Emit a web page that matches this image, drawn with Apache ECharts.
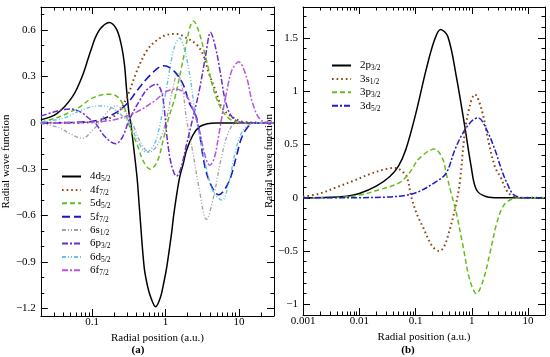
<!DOCTYPE html>
<html><head><meta charset="utf-8">
<script src="https://cdn.jsdelivr.net/npm/echarts@6/dist/echarts.min.js"></script>
<style>html,body{margin:0;padding:0;background:#fff}#c{width:550px;height:357px}</style>
</head><body><div id="c"></div>
<script>
// ---------- Panel (a) data: radial position r (a.u.) and wave function value ----------
const r4d = [0.02,0.033,0.054,0.073,0.09,0.1,0.11,0.125,0.142,0.17,0.213,0.248,0.275,0.295,0.32,0.335,0.37,0.41,0.44,0.51,0.57,0.63,0.73,0.85,0.95,1.04,1.21,1.28,1.4,1.56,1.75,1.92,2.35,2.88,3.7,5,30];
const v4d = [0.02,0.06,0.17,0.30,0.43,0.495,0.55,0.60,0.63,0.65,0.61,0.51,0.38,0.21,0.05,0,-0.17,-0.36,-0.55,-0.93,-1.06,-1.13,-1.19,-1.13,-1.03,-0.93,-0.71,-0.61,-0.48,-0.35,-0.26,-0.18,-0.08,-0.026,-0.005,0,0];
const r4f = [0.02,0.1,0.15,0.22,0.30,0.41,0.56,0.76,1.04,1.41,1.92,2.6,3.2,3.9,4.78,5.86,8,12,30];
const v4f = [0,0.003,0.02,0.06,0.17,0.34,0.47,0.535,0.57,0.575,0.55,0.51,0.45,0.32,0.21,0.10,0.04,0.005,0];
const r5d = [0.02,0.036,0.066,0.1,0.166,0.22,0.275,0.31,0.41,0.5,0.62,0.77,0.94,1.1,1.35,1.6,1.9,2.15,2.4,2.8,3.5,4.55,5.9,8,12,30];
const v5d = [0.005,0.04,0.10,0.16,0.186,0.17,0.10,0,-0.14,-0.25,-0.30,-0.25,-0.10,0.03,0.17,0.33,0.5,0.62,0.66,0.6,0.43,0.21,0.08,0.017,0,0];
const r5f = [0.02,0.08,0.12,0.2,0.3,0.41,0.62,0.94,1.28,1.73,2.12,2.47,2.75,3.5,4.55,5.3,6.2,7.6,9.3,10.8,13.2,16,30];
const v5f = [0,0.005,0.017,0.06,0.125,0.21,0.31,0.37,0.34,0.25,0.125,0.07,0,-0.30,-0.44,-0.465,-0.44,-0.36,-0.21,-0.10,-0.026,0,0];
const r6s = [0.02,0.035,0.05,0.074,0.1,0.125,0.16,0.21,0.27,0.35,0.45,0.6,0.78,1.0,1.25,1.45,1.7,1.92,2.35,2.88,3.6,4.55,5.6,7.2,9.3,30];
const v6s = [-0.005,-0.03,-0.07,-0.10,-0.05,0,0.07,0.11,0.08,0,-0.12,-0.19,-0.14,0,0.22,0.32,0.22,0.03,-0.19,-0.43,-0.625,-0.47,-0.25,-0.06,0,0];
const r6p = [0.02,0.03,0.05,0.07,0.09,0.11,0.15,0.21,0.26,0.32,0.45,0.57,0.75,0.88,0.97,1.05,1.2,1.41,1.6,1.92,2.35,2.88,3.5,4.1,4.78,5.6,6.5,8,11,30];
const v6p = [0.045,0.07,0.09,0.07,0.03,0,-0.09,-0.135,-0.09,0.02,0.15,0.22,0.25,0.2,0.07,-0.1,-0.27,-0.345,-0.3,-0.145,0.03,0.21,0.43,0.585,0.49,0.32,0.147,0.04,0.003,0];
const r6d = [0.02,0.04,0.07,0.12,0.18,0.25,0.32,0.42,0.55,0.7,0.85,1.05,1.3,1.55,1.8,2.12,2.47,2.8,3.5,4.5,5.9,7.3,9,11,14,20,30];
const v6d = [0.005,0.03,0.08,0.11,0.10,0.05,0,-0.12,-0.19,-0.14,0,0.25,0.48,0.55,0.48,0.32,0.1,-0.05,-0.27,-0.45,-0.5,-0.38,-0.18,-0.06,-0.01,0,0];
const r6f = [0.02,0.1,0.2,0.4,0.7,1.0,1.4,1.9,2.4,2.9,3.4,4.0,4.6,5.3,5.9,6.8,8,9.9,12.6,15.4,20,30];
const v6f = [0,0.005,0.02,0.07,0.14,0.2,0.22,0.18,0.08,-0.05,-0.2,-0.275,-0.23,-0.08,0.05,0.2,0.34,0.395,0.3,0.125,0.017,0];

// ---------- Panel (b) data ----------
const r2p = [0.001,0.003,0.006,0.01,0.02,0.035,0.05,0.067,0.1,0.154,0.217,0.278,0.376,0.53,0.75,0.97,1.21,1.83,3,20];
const v2p = [0,0.005,0.015,0.04,0.11,0.2,0.3,0.45,0.78,1.2,1.48,1.58,1.51,1.14,0.67,0.3,0.075,0.01,0,0];
const r3s = [0.001,0.002,0.004,0.008,0.015,0.03,0.045,0.06,0.07,0.085,0.105,0.134,0.2,0.267,0.32,0.376,0.5,0.61,0.75,0.92,1.13,1.49,1.96,2.58,3.2,4.5,7,20];
const v3s = [0.01,0.04,0.1,0.16,0.22,0.27,0.28,0.24,0.2,0,-0.15,-0.27,-0.457,-0.5,-0.46,-0.36,-0.11,0.14,0.61,0.86,0.97,0.83,0.54,0.29,0.2,0.044,0,0];
const r3p = [0.001,0.004,0.01,0.0225,0.051,0.077,0.117,0.217,0.306,0.35,0.43,0.53,0.7,0.92,1.21,1.6,2.1,2.77,3.6,4.8,7,20];
const v3p = [0,0.003,0.025,0.075,0.14,0.23,0.37,0.457,0.36,0.23,0.044,-0.14,-0.457,-0.77,-0.9,-0.77,-0.52,-0.24,-0.08,-0.019,0,0];
const r3d = [0.001,0.01,0.03,0.07,0.117,0.23,0.35,0.5,0.7,1.0,1.3,1.83,2.58,3.4,4.2,5.5,8,20];
const v3d = [0,0.001,0.006,0.025,0.06,0.15,0.23,0.45,0.61,0.72,0.75,0.64,0.45,0.26,0.14,0.03,0,0];

// ---------- Labels and ticks ----------
const namesA = ['4d 5/2','4f 7/2','5d 5/2','5f 7/2','6s 1/2','6p 3/2','6d 5/2','6f 7/2'];
const namesB = ['2p 3/2','3s 1/2','3p 3/2','3d 5/2'];
const ticksXA = [0.1, 1, 10];
const ticksXB = [0.001, 0.01, 0.1, 1, 10];
const ticksYA = [-1.2, -0.9, -0.6, -0.3, 0, 0.3, 0.6];
const ticksYB = [-1, -0.5, 0, 0.5, 1, 1.5];
const rangeXA = [0.02, 30], rangeYA = [-1.25, 0.75];
const rangeXB = [0.001, 20], rangeYB = [-1.1, 1.79];
const xTitle = 'Radial position (a.u.)';
const yTitle = 'Radial wave function';

const FONT = 'Liberation Serif';
const base = {fontFamily: FONT, fontSize: 11, color: '#000'};
const black = {color: '#000', width: 1};

function logMinors(lo, hi) {
  const out = [];
  for (let e = -4; e <= 2; e++) for (let k = 2; k <= 9; k++) {
    const v = k * Math.pow(10, e);
    if (v > lo && v < hi) out.push(Math.log10(v));
  }
  return out;
}
function linMinors(lo, hi, step, majors) {
  const out = [];
  for (let i = Math.ceil(lo / step - 1e-9); i * step <= hi + 1e-9; i++) {
    const v = +(i * step).toFixed(6);
    if (!majors.some(m => Math.abs(m - v) < 1e-6)) out.push(v);
  }
  return out;
}
const fmtLog = v => String(parseFloat(Math.pow(10, v).toPrecision(6)));
const fmtY = v => String(parseFloat(v.toFixed(3))).replace('-', '\u2212');

function xAxes(g, ext, majors) {
  const lo = Math.log10(ext[0]), hi = Math.log10(ext[1]);
  const maj = majors.map(Math.log10);
  const mnr = logMinors(ext[0], ext[1]);
  const common = {type: 'value', gridIndex: g, min: lo, max: hi, splitLine: {show: false},
    axisLine: {show: false, onZero: false}, axisLabel: {show: false}};
  return [
    {type: 'log', logBase: 10, gridIndex: g, min: ext[0], max: ext[1], show: false, axisLine: {onZero: false}, splitLine: {show: false}},
    Object.assign({}, common, {position: 'bottom',
      axisLine: {show: true, onZero: false, lineStyle: black},
      axisTick: {show: true, inside: true, length: 7, customValues: maj, lineStyle: black},
      axisLabel: Object.assign({show: true, customValues: maj, formatter: fmtLog, margin: 1}, base),
      name: xTitle, nameLocation: 'middle', nameGap: 9, nameTextStyle: base}),
    Object.assign({}, common, {position: 'bottom',
      axisTick: {show: true, inside: true, length: 3.5, customValues: mnr, lineStyle: black}}),
    Object.assign({}, common, {position: 'top',
      axisLine: {show: true, onZero: false, lineStyle: black},
      axisTick: {show: true, inside: true, length: 7, customValues: maj, lineStyle: black}}),
    Object.assign({}, common, {position: 'top',
      axisTick: {show: true, inside: true, length: 3.5, customValues: mnr, lineStyle: black}})
  ];
}
function yAxes(g, ext, majors, step, gap) {
  const mnr = linMinors(ext[0], ext[1], step, majors);
  const common = {type: 'value', gridIndex: g, min: ext[0], max: ext[1], splitLine: {show: false},
    axisLine: {show: false, onZero: false}, axisLabel: {show: false}};
  return [
    Object.assign({}, common, {position: 'left',
      axisLine: {show: true, onZero: false, lineStyle: black},
      axisTick: {show: true, inside: true, length: 7, customValues: majors, lineStyle: black},
      axisLabel: Object.assign({show: true, customValues: majors, formatter: fmtY, margin: 5}, base),
      name: yTitle, nameLocation: 'middle', nameGap: gap, nameTextStyle: base}),
    Object.assign({}, common, {position: 'left',
      axisTick: {show: true, inside: true, length: 3.5, customValues: mnr, lineStyle: black}}),
    Object.assign({}, common, {position: 'right',
      axisLine: {show: true, onZero: false, lineStyle: black},
      axisTick: {show: true, inside: true, length: 7, customValues: majors, lineStyle: black}}),
    Object.assign({}, common, {position: 'right',
      axisTick: {show: true, inside: true, length: 3.5, customValues: mnr, lineStyle: black}})
  ];
}

const pair = (r, v) => r.map((x, i) => [x, v[i]]);
function line(name, r, v, color, type, width, xi, yi) {
  return {type: 'line', name, data: pair(r, v), xAxisIndex: xi, yAxisIndex: yi,
    symbol: 'none', smooth: 0.35, clip: true, animation: false,
    lineStyle: {color, type, width}, itemStyle: {color}};
}

const series = [
  line(namesA[0], r4d, v4d, '#000000', 'solid', 1.5, 0, 0),
  line(namesA[1], r4f, v4f, '#8b4513', [1.6, 3], 2, 0, 0),
  line(namesA[2], r5d, v5d, '#62bf18', [5, 3], 1.5, 0, 0),
  line(namesA[3], r5f, v5f, '#1616c8', [8, 4], 1.6, 0, 0),
  line(namesA[4], r6s, v6s, '#a0a0a0', [4, 2, 1, 2, 1, 2], 1.3, 0, 0),
  line(namesA[5], r6p, v6p, '#6a2bd4', [6, 2, 2, 2], 1.5, 0, 0),
  line(namesA[6], r6d, v6d, '#66c2e8', [4, 2, 1, 2, 1, 2], 1.4, 0, 0),
  line(namesA[7], r6f, v6f, '#b455e6', [6, 2, 2, 2], 1.5, 0, 0),
  line(namesB[0], r2p, v2p, '#000000', 'solid', 1.5, 5, 4),
  line(namesB[1], r3s, v3s, '#8b4513', [1.6, 3], 2, 5, 4),
  line(namesB[2], r3p, v3p, '#62bf18', [5, 3], 1.5, 5, 4),
  line(namesB[3], r3d, v3d, '#1c1cc8', [6, 2, 2, 2], 1.5, 5, 4)
];

const rich = {
  m: {fontFamily: FONT, fontSize: 11, color: '#000', padding: [0, 0, 0, 4], lineHeight: 14},
  s: {fontFamily: FONT, fontSize: 7.5, color: '#000', verticalAlign: 'bottom', lineHeight: 6}
};
const legFmt = n => { const p = n.split(' '); return '{m|' + p[0] + '}{s|' + p[1] + '}'; };
function legend(names, left, top) {
  return {data: names, orient: 'vertical', left, top, itemWidth: 19, itemHeight: 10, itemGap: 0.9,
    selectedMode: false, formatter: legFmt, textStyle: {rich}, itemStyle: {opacity: 0}, padding: 0};
}

const chart = echarts.init(document.getElementById('c'), null, {renderer: 'canvas'});
chart.setOption({
  animation: false,
  backgroundColor: '#fff',
  grid: [
    {left: 33, top: 7, width: 241, height: 309},
    {left: 303, top: 7, width: 242, height: 308}
  ],
  xAxis: xAxes(0, rangeXA, ticksXA).concat(xAxes(1, rangeXB, ticksXB)),
  yAxis: yAxes(0, rangeYA, ticksYA, 0.1, 20).concat(yAxes(1, rangeYB, ticksYB, 0.1, 15)),
  legend: [legend(namesA, 61, 171), legend(namesB, 331, 60)],
  graphic: [
    {type: 'text', x: 138, y: 350, style: {text: '(a)', font: 'bold 11px "Liberation Serif"', fill: '#000', textAlign: 'center', textVerticalAlign: 'middle'}},
    {type: 'text', x: 408, y: 350, style: {text: '(b)', font: 'bold 11px "Liberation Serif"', fill: '#000', textAlign: 'center', textVerticalAlign: 'middle'}}
  ],
  series
});
</script>
</body></html>
